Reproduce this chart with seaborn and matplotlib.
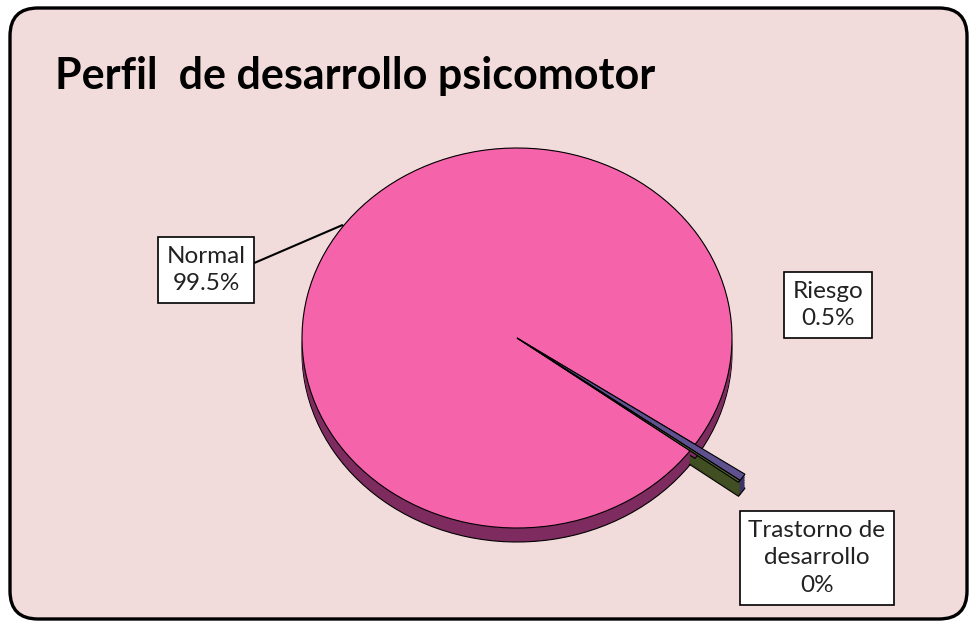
import numpy as np
import matplotlib.pyplot as plt
import seaborn as sns
from matplotlib.patches import FancyBboxPatch

# data
categories = ["Normal", "Riesgo", "Trastorno de\ndesarrollo"]
values = [99.5, 0.5, 0.15]
pct_labels = ["99.5%", "0.5%", "0%"]

top_colors = ["#F563AB", "#5F5190", "#55652E"]
side_colors = ["#7E2B60", "#3C3268", "#414F22"]

sns.set_theme(style="white")
plt.rcParams['font.family'] = ['Lato', 'DejaVu Sans']

W, H = 971, 623
fig = plt.figure(figsize=(W / 100, H / 100), dpi=100)
fig.patch.set_facecolor("white")

# rounded panel behind everything
bg = fig.add_axes([0, 0, 1, 1])
bg.set_xlim(0, W)
bg.set_ylim(0, H)
bg.axis("off")
bg.add_patch(FancyBboxPatch((10, 4), 957, 611, boxstyle="round,pad=0,rounding_size=28",
                            fc="#F2DCDB", ec="black", lw=2.4))

fig.text(55 / W, (H - 89) / H, "Perfil  de desarrollo psicomotor", fontsize=31,
         fontweight="bold", ha="left", va="baseline", color="black")

# pie axes: ellipse centre (517, 338 from top), radii 215 x 190 px
cx, cy, rx, ry, lim = 517, H - 338, 215, 190, 1.6
ax = fig.add_axes([(cx - rx * lim) / W, (cy - ry * lim) / H, 2 * rx * lim / W, 2 * ry * lim / H])
ax.patch.set_alpha(0)

start = -36.4
depth = 14 / ry
small_r = 1.28

def layer(cols, radius, dy, edge):
    return ax.pie(values, colors=cols, startangle=start, counterclock=False, radius=radius,
                  center=(0, -dy),
                  wedgeprops=dict(lw=0.8 if edge else 0, edgecolor="black" if edge else "none"))[0]

big_side = [side_colors[0], "none", "none"]
big_top = [top_colors[0], "none", "none"]
small_side = ["none", side_colors[1], side_colors[2]]
small_top = ["none", top_colors[1], top_colors[2]]

# sides (3d depth), then tops
for k in np.linspace(depth, 0, 10):
    layer(small_side, small_r, k, k == depth)
for k in np.linspace(depth, 0, 10):
    layer(big_side, 1.0, k, k == depth)
wedges = layer(big_top, 1.0, 0, True)
layer(small_top, small_r, 0, True)

for w in ax.patches:
    if w.get_facecolor()[3] == 0:
        w.set_edgecolor("none")

ax.set_aspect("auto")
ax.set_xlim(-lim, lim)
ax.set_ylim(-lim, lim)
ax.axis("off")

box = dict(boxstyle="square,pad=0.36", fc="white", ec="black", lw=1.2)
txt_kw = dict(fontsize=17.5, ha="center", va="center", color="#222222", linespacing=1.38,
              textcoords="figure pixels", annotation_clip=False)

# Normal with leader line to the wedge edge
w0 = wedges[0]
mid = np.deg2rad((w0.theta1 + w0.theta2) / 2)
ax.annotate(f"{categories[0]}\n{pct_labels[0]}", xy=(0.995 * np.cos(mid), 0.995 * np.sin(mid) + 0.02),
            xycoords="data", xytext=(206, H - 270), bbox=box,
            arrowprops=dict(arrowstyle="-", color="black", lw=1.5, relpos=(1, 0.62), shrinkA=0, shrinkB=0,
                            connectionstyle="arc,angleA=0,angleB=0,armA=6,armB=0,rad=0"),
            **txt_kw)
ax.annotate(f"{categories[1]}\n{pct_labels[1]}", xy=(0, 0), xytext=(828, H - 305), bbox=box, **txt_kw)
ax.annotate(f"{categories[2]}\n{pct_labels[2]}", xy=(0, 0), xytext=(817, H - 558), bbox=box, **txt_kw)

fig.savefig("out.png", dpi=100)
